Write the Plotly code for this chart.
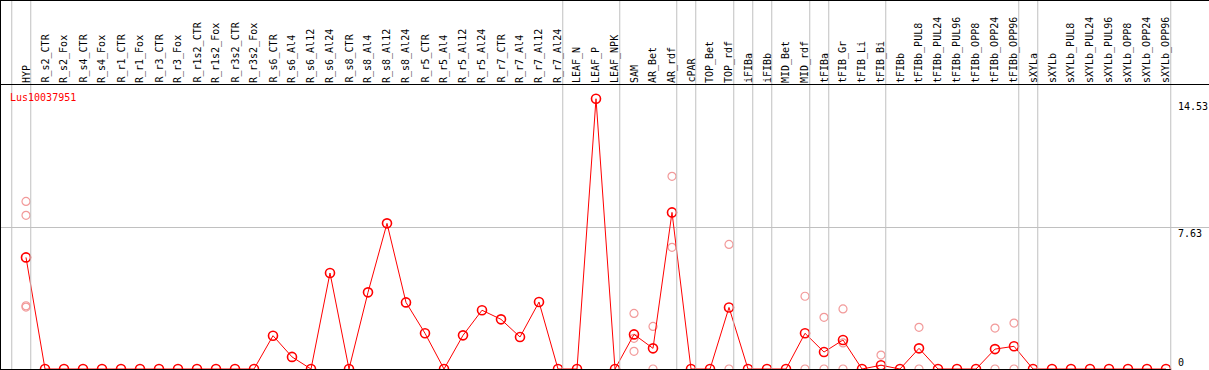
import plotly.graph_objects as go

W, H = 1209, 370
MT = 85           # label band height (px)
X0_PX, DX_PX = 26, 19   # first category centre and step (px)
PX_PER_UNIT = 18.6

categories = ["HYP", "R_s2_CTR", "R_s2_Fox", "R_s4_CTR", "R_s4_Fox", "R_r1_CTR", "R_r1_Fox",
              "R_r3_CTR", "R_r3_Fox", "R_r1s2_CTR", "R_r1s2_Fox", "R_r3s2_CTR", "R_r3s2_Fox",
              "R_s6_CTR", "R_s6_Al4", "R_s6_Al12", "R_s6_Al24", "R_s8_CTR", "R_s8_Al4",
              "R_s8_Al12", "R_s8_Al24", "R_r5_CTR", "R_r5_Al4", "R_r5_Al12", "R_r5_Al24",
              "R_r7_CTR", "R_r7_Al4", "R_r7_Al12", "R_r7_Al24", "LEAF_N", "LEAF_P", "LEAF_NPK",
              "SAM", "AR_Bet", "AR_rdf", "cPAR", "TOP_Bet", "TOP_rdf", "iFIBa", "iFIBb",
              "MID_Bet", "MID_rdf", "tFIBa", "tFIB_Gr", "tFIB_Li", "tFIB_Bi", "tFIBb",
              "tFIBb_PUL8", "tFIBb_PUL24", "tFIBb_PUL96", "tFIBb_OPP8", "tFIBb_OPP24",
              "tFIBb_OPP96", "sXYLa", "sXYLb", "sXYLb_PUL8", "sXYLb_PUL24", "sXYLb_PUL96",
              "sXYLb_OPP8", "sXYLb_OPP24", "sXYLb_OPP96"]

mean_values = [6.00, 0, 0, 0, 0, 0, 0, 0, 0, 0, 0, 0, 0,
               1.79, 0.65, 0, 5.16, 0, 4.12, 7.83, 3.58, 1.92, 0, 1.81, 3.16,
               2.67, 1.72, 3.60, 0, 0, 14.53, 0, 1.86, 1.11, 8.42, 0, 0, 3.31,
               0, 0, 0, 1.92, 0.91, 1.56, 0, 0.20, 0, 1.11, 0, 0, 0, 1.07, 1.22,
               0, 0, 0, 0, 0, 0, 0, 0]

rep_categories = ["HYP", "HYP", "HYP", "HYP", "SAM", "SAM", "SAM", "AR_Bet", "AR_Bet",
                  "AR_rdf", "AR_rdf", "TOP_rdf", "TOP_rdf", "MID_rdf", "MID_rdf",
                  "tFIBa", "tFIBa", "tFIB_Gr", "tFIB_Gr", "tFIB_Gr", "tFIB_Bi", "tFIB_Bi",
                  "tFIBb_PUL8", "tFIBb_PUL8", "tFIBb_OPP24", "tFIBb_OPP24",
                  "tFIBb_OPP96", "tFIBb_OPP96"]
rep_values = [9.01, 8.26, 3.40, 3.33, 2.99, 1.65, 0.95, 2.29, 0,
              10.36, 6.54, 6.70, 0, 3.91, 0,
              2.78, 0, 3.23, 1.40, 0, 0.75, 0,
              2.24, 0, 2.20, 0, 2.47, 0]

# group boundaries: index of last category in each group (-1 = left edge)
group_ends = [-1, 0, 28, 31, 34, 35, 37, 38, 39, 41, 42, 45, 52, 53, 60]

y_ticks = [14.53, 7.63, 0]
gene = "Lus10037951"

idx = {c: i for i, c in enumerate(categories)}
xs = list(range(len(categories)))
rep_x = [idx[c] for c in rep_categories]

x_range = [-X0_PX / DX_PX, (W - X0_PX) / DX_PX]
plot_h = H - MT
y_range = [-(H - 369) / PX_PER_UNIT, (369 - MT) / PX_PER_UNIT]


def xpaper(j):
    return (j - x_range[0]) / (x_range[1] - x_range[0])


def ypaper_px(py):
    return (H - py) / plot_h


mono = "DejaVu Sans Mono, Liberation Mono, monospace"

fig = go.Figure()
fig.add_trace(go.Scatter(
    x=rep_x, y=rep_values, mode="markers", cliponaxis=False,
    marker=dict(symbol="circle-open", size=8, color="#f29a9a", line=dict(width=1.2, color="#f29a9a")),
    hoverinfo="skip", showlegend=False))
fig.add_trace(go.Scatter(
    x=xs, y=mean_values, mode="lines+markers", cliponaxis=False,
    line=dict(color="#ff0000", width=1),
    marker=dict(symbol="circle-open", size=9, color="#ff0000", line=dict(width=1.6, color="#ff0000")),
    showlegend=False))

shapes = []
# group separator lines (full height)
for j in group_ends:
    xp = xpaper(j + 0.25)
    shapes.append(dict(type="line", xref="paper", yref="paper", x0=xp, x1=xp,
                       y0=ypaper_px(H), y1=ypaper_px(0), line=dict(color="#c0c0c0", width=1)))
# black frame lines
for py in (0.5, MT - 0.5):
    shapes.append(dict(type="line", xref="paper", yref="paper", x0=0, x1=1,
                       y0=ypaper_px(py), y1=ypaper_px(py), line=dict(color="#000000", width=1)))
shapes.append(dict(type="line", xref="paper", yref="paper", x0=0.5 / W, x1=0.5 / W,
                   y0=ypaper_px(H), y1=ypaper_px(0), line=dict(color="#000000", width=1)))
shapes.append(dict(type="line", xref="paper", yref="paper", x0=0, x1=xpaper(60.25),
                   y0=ypaper_px(369.5), y1=ypaper_px(369.5), line=dict(color="#000000", width=1)))

annotations = [dict(text=gene, xref="paper", yref="paper", x=8 / W, y=ypaper_px(97),
                    xanchor="left", yanchor="middle", showarrow=False,
                    font=dict(family=mono, size=10, color="#ff0000"))]
# category labels (rotated, bottom-anchored just above the plot band)
for j, name in zip(xs, categories):
    annotations.append(dict(text=name, xref="x", yref="paper", x=j, y=ypaper_px(84),
                            xanchor="center", yanchor="bottom", textangle=-90,
                            showarrow=False, borderpad=0,
                            font=dict(family=mono, size=10, color="#000000")))
for v in y_ticks:
    annotations.append(dict(text=f"{v:g}" if v else "0", xref="paper", yref="y",
                            x=1176 / W, y=v, xanchor="left",
                            yanchor="bottom" if v == 0 else "top",
                            yshift=-1 if v == 0 else (1 if v < 10 else 0),
                            showarrow=False, font=dict(family=mono, size=10, color="#000000")))

fig.update_layout(
    width=W, height=H, margin=dict(l=0, r=0, t=MT, b=0, pad=0, autoexpand=False),
    paper_bgcolor="white", plot_bgcolor="white",
    shapes=shapes, annotations=annotations,
    xaxis=dict(range=x_range, showticklabels=False, ticks="", showgrid=False,
               zeroline=False, showline=False, automargin=False),
    yaxis=dict(range=y_range, tickmode="array", tickvals=[7.63], showticklabels=False,
               automargin=False,
               showgrid=True, gridcolor="#c0c0c0", gridwidth=1, zeroline=False, showline=False),
)

fig.write_html("out.html", config={"displayModeBar": False},
               post_script="document.body.style.margin='0';document.body.style.overflow='hidden';")
